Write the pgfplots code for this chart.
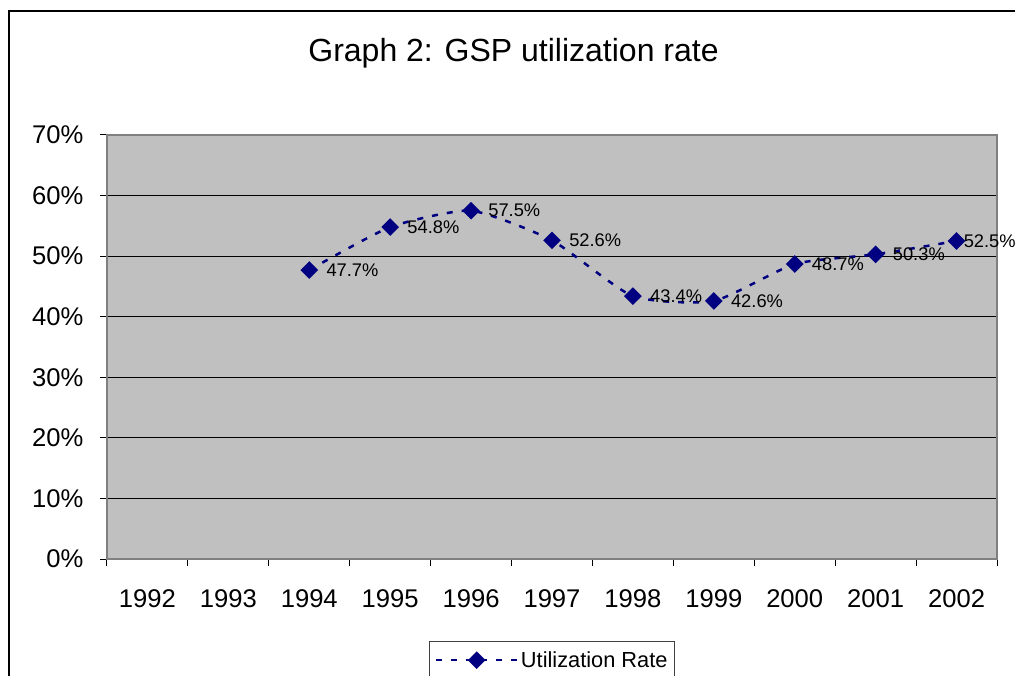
\documentclass[border=0pt]{standalone}
\usepackage{fontspec}
\setmainfont{Liberation Sans}
\usepackage{pgfplots}
\pgfplotsset{compat=1.18}
\definecolor{plotgray}{HTML}{C0C0C0}
\definecolor{bordergray}{HTML}{808080}
\definecolor{navy}{HTML}{000080}
\begin{document}
\begin{tikzpicture}[x=1pt,y=1pt]
\useasboundingbox (0,0) rectangle (1015,675);
\draw[line width=1.5pt] (9,-20) -- (9,664) -- (1040,664);
\node[anchor=base, font=\fontsize{32}{38}\selectfont, inner sep=0pt] at (513.5,613) {Graph 2: GSP utilization rate};
\begin{axis}[
  at={(107pt,116pt)}, anchor=south west,
  scale only axis, width=890pt, height=424pt,
  xmin=-0.5, xmax=10.5, ymin=0, ymax=70,
  clip=false,
  /pgf/number format/assume math mode=true,
  axis background/.style={fill=plotgray},
  axis line style={draw=bordergray, line width=2pt},
  xtick={-0.5,0.5,...,10.5},
  x tick label as interval,
  xticklabels={1992,1993,1994,1995,1996,1997,1998,1999,2000,2001,2002},
  ytick={0,10,...,70},
  yticklabels={0\%,10\%,20\%,30\%,40\%,50\%,60\%,70\%},
  xtick pos=bottom, ytick pos=left,
  tick align=outside, major tick length=7pt,
  tick style={black, line width=1pt},
  ymajorgrids, xmajorgrids=false,
  grid style={black, line width=1pt},
  xticklabel style={font=\fontsize{25.6}{30}\selectfont, yshift=-20pt},
  yticklabel style={font=\fontsize{25.6}{30}\selectfont, xshift=-13pt},
  legend style={at={(0.5,-0.1934)}, anchor=north, draw=black!75, line width=1pt,
    font=\fontsize{21.8}{26}\selectfont, inner xsep=5pt, inner ysep=8pt},
  legend cell align=left,
  legend image code/.code={\draw[mark repeat=2,mark phase=2,#1] plot coordinates {(0pt,0pt) (41pt,0pt) (82pt,0pt)};},
]
\addplot[navy, line width=2.5pt, dash pattern=on 6pt off 9pt, smooth, tension=0.35,
  mark=square*, mark size=5pt, mark options={solid, rotate=45, fill=navy},
  point meta=explicit,
  visualization depends on={x \as \myx},
  nodes near coords={\pgfmathprintnumber[fixed,fixed zerofill,precision=1,assume math mode=true]{\pgfplotspointmeta}\%},
  every node near coord/.append style={anchor=west, inner sep=0pt,
    xshift={ifthenelse(\myx>9.5,6,16)}, font=\fontsize{18.3}{22}\selectfont, text=black},
] table[meta=y] {
x y
2 47.7
3 54.8
4 57.5
5 52.6
6 43.4
7 42.6
8 48.7
9 50.3
10 52.5
};
\addlegendentry{Utilization Rate}
\end{axis}
\end{tikzpicture}
\end{document}
